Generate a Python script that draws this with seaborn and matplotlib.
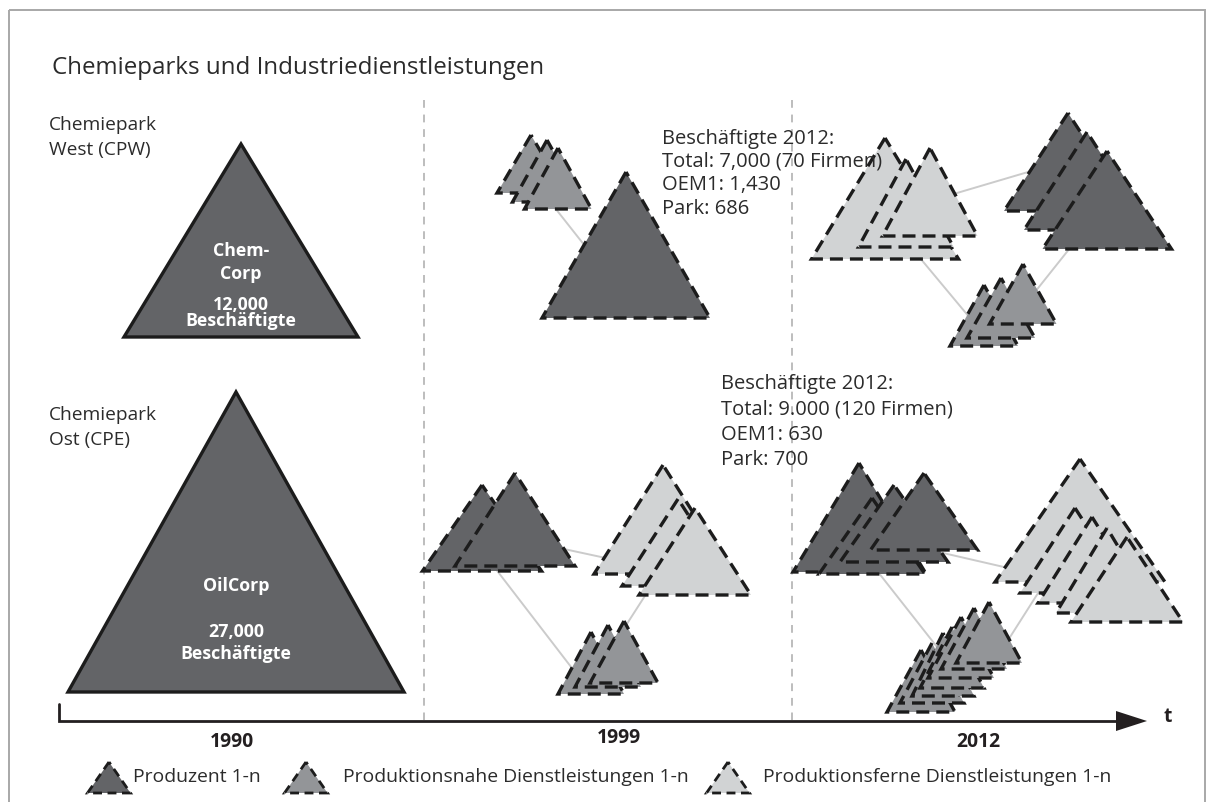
import numpy as np
import pandas as pd
import matplotlib
matplotlib.use("Agg")
import matplotlib.pyplot as plt
import seaborn as sns
from matplotlib.patches import Polygon, Rectangle

# ---------------- data ----------------
TITLE = "Chemieparks und Industriedienstleistungen"
PARK_LABELS = [["Chemiepark", "West (CPW)"], ["Chemiepark", "Ost (CPE)"]]
PARK_LABEL_BASELINES = [[130, 155], [420, 445]]

# triangles (drawn back to front): kind, apex x, apex y, base y, half width, dashed
TRI_KIND = (["dark", "dark"]
            + ["medium"] * 3 + ["dark"]
            + ["light"] * 3 + ["dark"] * 3 + ["medium"] * 3
            + ["dark"] * 2 + ["light"] * 3 + ["medium"] * 3
            + ["dark"] * 4 + ["light"] * 5 + ["medium"] * 7)
TRI_APEX_X = [241, 236,
              531, 547, 558, 626,
              885, 906, 930, 1068, 1087, 1107, 984, 1001, 1023,
              482, 515, 663, 678, 695, 591, 608, 624,
              859, 872, 894, 924, 1080, 1075, 1092, 1107, 1127,
              921, 932, 943, 952, 961, 974, 989]
TRI_APEX_Y = [144, 392,
              135, 140, 148, 172,
              138, 159, 148, 113, 132, 151, 285, 278, 264,
              485, 473, 465, 499, 508, 632, 625, 621,
              463, 498, 485, 473, 459, 508, 517, 528, 537,
              650, 643, 633, 627, 617, 608, 602]
TRI_BASE_Y = [337, 692,
              193, 202, 209, 318,
              259, 247, 236, 211, 230, 249, 346, 338, 324,
              571, 566, 574, 586, 595, 694, 687, 683,
              572, 574, 562, 550, 582, 593, 603, 613, 622,
              712, 703, 696, 688, 678, 669, 663]
TRI_HALF_W = [117, 168,
              34, 34.5, 33.5, 84,
              73.5, 47.5, 47.5, 64, 63, 64.5, 34, 34, 33.5,
              59.5, 60, 69, 56, 56, 33, 33, 34,
              66, 53, 54, 53.5, 85, 55, 54, 51, 56,
              34, 32, 31, 32, 33, 33, 33]
TRI_DASHED = [False, False] + [True] * 37

# connector lines between groups
LINK_X0 = [544, 940, 920, 1070, 495, 550, 650, 930, 878, 1040]
LINK_Y0 = [194, 198, 258, 248, 568, 546, 588, 550, 572, 590]
LINK_X1 = [600, 1045, 975, 1031, 578, 615, 623, 1010, 941, 1005]
LINK_Y1 = [265, 167, 324, 297, 676, 560, 630, 568.4, 652, 645]

# texts inside the 1990 triangles
CORP_LINES = [["Chem-", "Corp", "12,000", "Beschäftigte"],
              ["OilCorp", "27,000", "Beschäftigte"]]
CORP_X = [241, 236]
CORP_BASELINES = [[256, 279, 310, 326], [591, 637, 659]]

# employee info blocks
INFO_LINES = [["Beschäftigte 2012:", "Total: 7,000 (70 Firmen)", "OEM1: 1,430", "Park: 686"],
              ["Beschäftigte 2012:", "Total: 9.000 (120 Firmen)", "OEM1: 630", "Park: 700"]]
INFO_X = [662, 721]
INFO_BASELINES = [[144, 167, 190, 214], [389, 414, 440, 465]]

# time axis
YEAR_LABELS = ["1990", "1999", "2012"]
YEAR_X = [232, 619, 978]
YEAR_BASELINES = [747, 743, 747]
DIVIDER_X = [424, 792]

# legend
LEGEND_LABELS = ["Produzent 1-n", "Produktionsnahe Dienstleistungen 1-n",
                 "Produktionsferne Dienstleistungen 1-n"]
LEGEND_KINDS = ["dark", "medium", "light"]
LEGEND_MARK_X = [109, 306, 728]
LEGEND_TEXT_X = [133, 343, 763]

# ---------------- style ----------------
FILL = {"dark": "#636467", "medium": "#939598", "light": "#d1d3d4"}
EDGE = "#1c1c1c"
TEXT = "#2b2b2b"
WEIGHT = "normal"

sns.set_theme(style="white")
plt.rcParams["font.family"] = ["Open Sans", "DejaVu Sans"]

fig = plt.figure(figsize=(12.14, 8.02), dpi=100)
ax = fig.add_axes([0, 0, 1, 1])
renderer = fig.canvas.get_renderer()


def fitted(sample, target_px, weight):
    t = ax.text(0, 0, sample, fontsize=20, fontweight=weight)
    w = t.get_window_extent(renderer).width
    t.remove()
    return 20 * target_px / w


fs_title = fitted(TITLE, 490, WEIGHT)
fs_label = fitted("Chemiepark", 108, WEIGHT)
fs_info = fitted("Total: 7,000 (70 Firmen)", 219, WEIGHT)
fs_leg = fitted(LEGEND_LABELS[2], 348, WEIGHT)
fs_year = fitted("1990", 44, "bold")
fs_corp = fitted("Beschäftigte", 111, "bold")

# connectors with seaborn
link_df = pd.DataFrame({
    "link": np.repeat(np.arange(len(LINK_X0)), 2),
    "x": np.ravel(np.column_stack([LINK_X0, LINK_X1])),
    "y": np.ravel(np.column_stack([LINK_Y0, LINK_Y1])),
})
sns.lineplot(data=link_df, x="x", y="y", units="link", estimator=None, sort=False,
             color="#cbcbcb", lw=1.4, ax=ax, legend=False, zorder=1)

# frame
ax.add_patch(Rectangle((9, 10), 1196, 800, fill=False, edgecolor="#a8a8a8", lw=1.4, zorder=0))

# dividers
for x in DIVIDER_X:
    ax.plot([x, x], [100, 720], color="#bdbdbd", lw=1.4, linestyle=(0, (4, 3.5)), zorder=0.5)

# triangles
for i, (k, axx, ay, by, hw, d) in enumerate(zip(TRI_KIND, TRI_APEX_X, TRI_APEX_Y,
                                                TRI_BASE_Y, TRI_HALF_W, TRI_DASHED)):
    poly = Polygon([[axx, ay], [axx - hw, by], [axx + hw, by]], closed=True,
                   facecolor=FILL[k], edgecolor=EDGE,
                   lw=2.4,
                   linestyle="-" if not d else (0, (3.9, 2.1)),
                   joinstyle="miter", capstyle="butt", zorder=2 + i * 0.01)
    ax.add_patch(poly)

# texts
ax.text(52, 74, TITLE, fontsize=fs_title, fontweight=WEIGHT, color=TEXT, va="baseline")
for lines, bls in zip(PARK_LABELS, PARK_LABEL_BASELINES):
    for s, b in zip(lines, bls):
        ax.text(49, b, s, fontsize=fs_label, fontweight=WEIGHT, color=TEXT, va="baseline")
for lines, x, bls in zip(CORP_LINES, CORP_X, CORP_BASELINES):
    for s, b in zip(lines, bls):
        ax.text(x, b, s, fontsize=fs_corp, fontweight="bold", color="white",
                ha="center", va="baseline", zorder=5)
for lines, x, bls in zip(INFO_LINES, INFO_X, INFO_BASELINES):
    for s, b in zip(lines, bls):
        ax.text(x, b, s, fontsize=fs_info, fontweight=WEIGHT, color=TEXT,
                va="baseline", zorder=5)

# time axis
ax.plot([59, 59, 1120], [704, 721, 721], color="#231f20", lw=2.0, solid_joinstyle="miter", zorder=3)
ax.add_patch(Polygon([[1116, 711], [1147, 721], [1116, 731]], closed=True,
                     facecolor="#231f20", edgecolor="none", zorder=3))
ax.text(1163, 722, "t", fontsize=fs_year, fontweight="bold", color="#231f20", va="baseline")
for s, x, b in zip(YEAR_LABELS, YEAR_X, YEAR_BASELINES):
    ax.text(x, b, s, fontsize=fs_year, fontweight="bold", color="#231f20", ha="center", va="baseline")

# legend
for s, k, mx, tx in zip(LEGEND_LABELS, LEGEND_KINDS, LEGEND_MARK_X, LEGEND_TEXT_X):
    ax.add_patch(Polygon([[mx, 762], [mx - 21.5, 793], [mx + 21.5, 793]], closed=True,
                         facecolor=FILL[k], edgecolor=EDGE, lw=2.0,
                         linestyle=(0, (3.2, 2.0)), joinstyle="miter", capstyle="butt", zorder=3))
    ax.text(tx, 782, s, fontsize=fs_leg, fontweight=WEIGHT, color=TEXT, va="baseline")

ax.set_xlim(0, 1214)
ax.set_ylim(802, 0)
ax.axis("off")
fig.savefig("out.png", dpi=100)
